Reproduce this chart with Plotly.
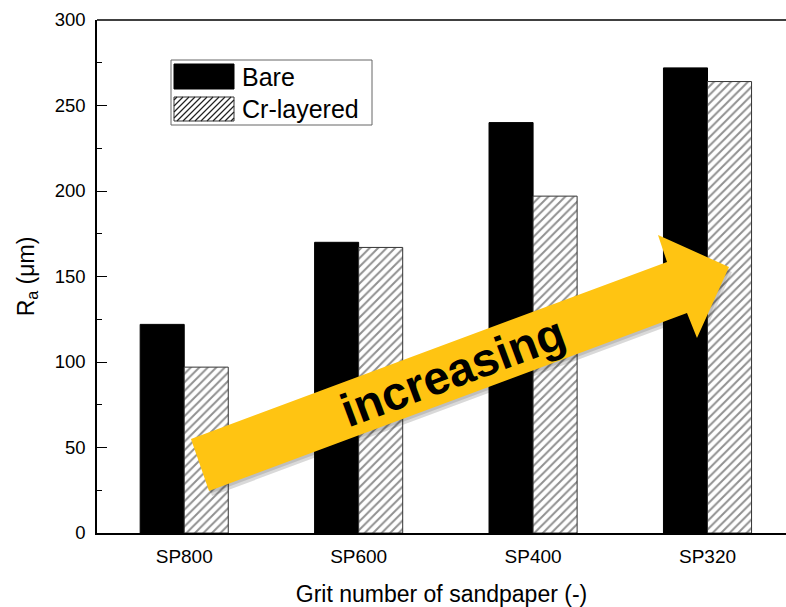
import plotly.graph_objects as go

# ---- data ----
categories = ["SP800", "SP600", "SP400", "SP320"]
bare = [122, 170, 240, 272]
cr_layered = [97, 167, 197, 264]
y_ticks = [0, 50, 100, 150, 200, 250, 300]
series_names = ["Bare", "Cr-layered"]

FONT = "Liberation Sans, Arial, sans-serif"

# plot area geometry in pixels (for decorative overlays only)
W, H = 786, 607
L, R, T, B = 97, 0, 20, 74
PW, PH = W - L - R, H - T - B


def pp(px, py):
    """pixel -> paper coordinates (decoration only)"""
    return (px - L) / PW, (H - B - py) / PH


fig = go.Figure()
fig.add_trace(go.Bar(
    x=categories, y=bare, name=series_names[0], showlegend=False,
    marker=dict(color="black", line=dict(color="black", width=1)),
))
fig.add_trace(go.Bar(
    x=categories, y=cr_layered, name=series_names[1], showlegend=False,
    marker=dict(color="white",
                line=dict(color="#333333", width=1),
                pattern=dict(shape="/", fgcolor="#222222", bgcolor="white",
                             size=6, solidity=0.33)),
))

# ---- decorative arrow ----
arrow_px = [(191, 439), (667, 262), (658, 235), (729, 267),
            (697, 338), (687, 313), (209, 491)]


def path_from(pts, dx=0.0, dy=0.0):
    s = ""
    for i, (px, py) in enumerate(pts):
        x, y = pp(px + dx, py + dy)
        s += ("M" if i == 0 else "L") + f"{x:.4f},{y:.4f} "
    return s + "Z"


def rect(x0, y0, x1, y1, **kw):
    a, b = pp(x0, y1)
    c, d = pp(x1, y0)
    return dict(type="rect", xref="paper", yref="paper", x0=a, y0=b, x1=c, y1=d,
                layer="above", **kw)


def hatch_path(x0, y0, x1, y1, step=6):
    s = ""
    c = x0 + y0 + step / 2
    while c < x1 + y1:
        xa = max(x0, c - y1)
        xb = min(x1, c - y0)
        if xb > xa:
            p1 = pp(xa, c - xa)
            p2 = pp(xb, c - xb)
            s += f"M{p1[0]:.4f},{p1[1]:.4f} L{p2[0]:.4f},{p2[1]:.4f} "
        c += step
    return s


shapes = [
    # top frame line
    dict(type="line", xref="paper", yref="paper", x0=0, x1=1, y0=1, y1=1,
         line=dict(color="black", width=1.5)),
    # legend box + swatches
    rect(171, 60, 372, 125, fillcolor="white", line=dict(color="#666666", width=1)),
    rect(174, 64, 234, 89, fillcolor="black", line=dict(color="black", width=1)),
    rect(174, 97, 234, 121, fillcolor="white", line=dict(color="#333333", width=1)),
    dict(type="path", xref="paper", yref="paper", path=hatch_path(174, 97, 234, 121),
         line=dict(color="#222222", width=1.2), layer="above"),
    # arrow shadow
    dict(type="path", xref="paper", yref="paper", path=path_from(arrow_px, 3, 5),
         fillcolor="rgba(0,0,0,0.15)", line=dict(width=0), layer="above"),
    dict(type="path", xref="paper", yref="paper", path=path_from(arrow_px, 1.5, 2.5),
         fillcolor="rgba(0,0,0,0.12)", line=dict(width=0), layer="above"),
    # arrow
    dict(type="path", xref="paper", yref="paper", path=path_from(arrow_px),
         fillcolor="#FFC412", line=dict(width=0), layer="above"),
]

tx, ty = pp(452, 371)
b1x, b1y = pp(240, 77)
b2x, b2y = pp(240, 109)
annotations = [
    dict(text="increasing", xref="paper", yref="paper", x=tx, y=ty,
         xanchor="center", yanchor="middle", showarrow=False, textangle=-20.4,
         font=dict(family=FONT, size=47, color="black", weight="bold")),
    dict(text=series_names[0], xref="paper", yref="paper", x=b1x, y=b1y,
         xanchor="left", yanchor="middle", showarrow=False,
         font=dict(family=FONT, size=25, color="black")),
    dict(text=series_names[1], xref="paper", yref="paper", x=b2x, y=b2y,
         xanchor="left", yanchor="middle", showarrow=False,
         font=dict(family=FONT, size=25, color="black")),
]

fig.update_layout(
    width=W, height=H,
    margin=dict(l=L, r=R, t=T, b=B, pad=0, autoexpand=False),
    paper_bgcolor="white", plot_bgcolor="white",
    barmode="group", bargap=0.495, bargroupgap=0,
    font=dict(family=FONT, size=18, color="black"),
    shapes=shapes, annotations=annotations,
    showlegend=False,
    xaxis=dict(
        range=[-0.5, 3.45], showline=True, linecolor="black", linewidth=1.5,
        ticks="", showgrid=False, zeroline=False, automargin=False,
        ticklabelstandoff=5,
        tickfont=dict(family=FONT, size=19),
        title=dict(text="Grit number of sandpaper (-)", standoff=20,
                   font=dict(family=FONT, size=23)),
    ),
    yaxis=dict(
        range=[0, 300], tickvals=y_ticks, showline=True, linecolor="black",
        linewidth=1.5, ticks="inside", ticklen=10, tickwidth=1.2,
        tickcolor="black", showgrid=False, zeroline=False, automargin=False,
        ticklabelstandoff=6,
        tickfont=dict(family=FONT, size=18.5),
        minor=dict(dtick=25, ticks="inside", ticklen=5, tickwidth=1, tickcolor="black"),
        title=dict(text="R<sub>a</sub> (μm)", standoff=14,
                   font=dict(family=FONT, size=23)),
    ),
)

fig.write_html("out.html",
               config={"displayModeBar": False},
               post_script="document.body.style.margin='0px';document.body.style.overflow='hidden';")
